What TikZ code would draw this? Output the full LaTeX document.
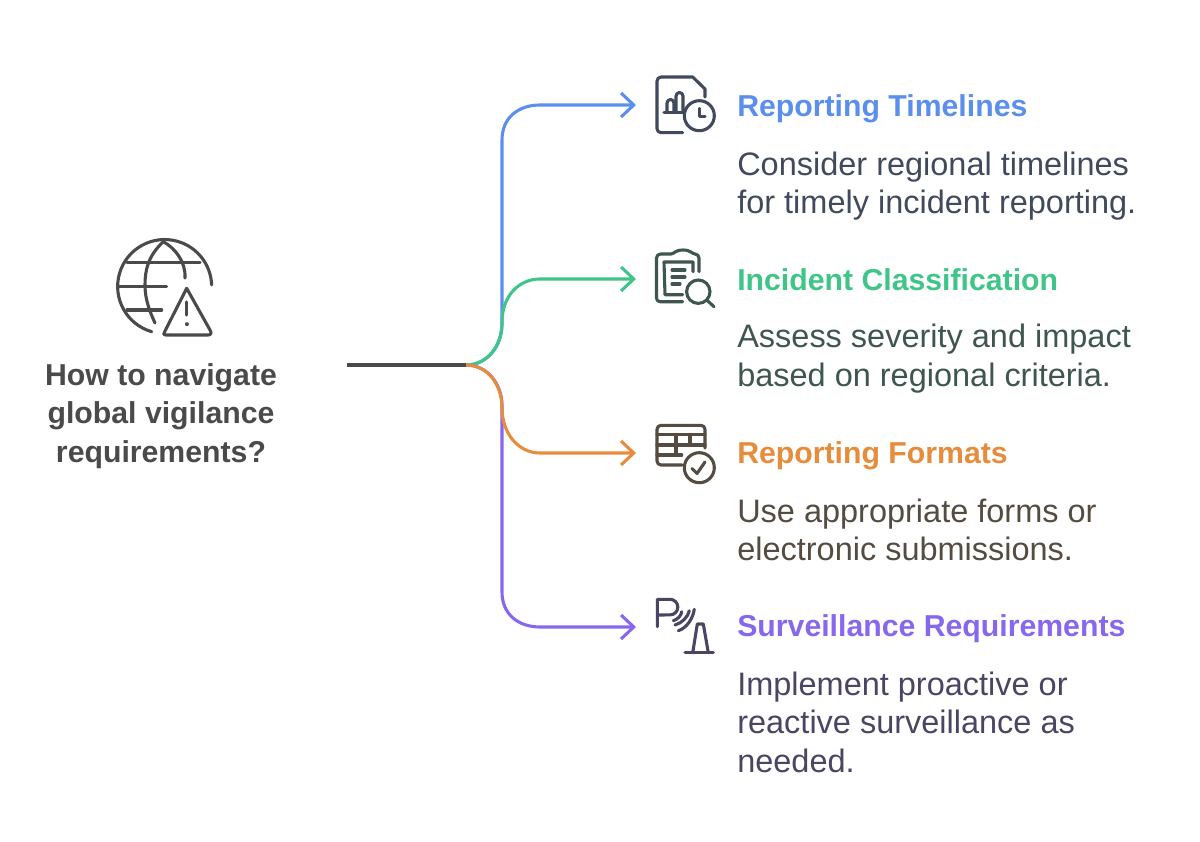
\documentclass[tikz,border=0pt]{standalone}
\usepackage{fontspec}
\setmainfont{Liberation Sans}
\usepackage{tikz}
\usetikzlibrary{arrows.meta, positioning}

\definecolor{blueline}{HTML}{5B8FEE}
\definecolor{greenline}{HTML}{3FC587}
\definecolor{orangeline}{HTML}{E68C3A}
\definecolor{purpleline}{HTML}{8767EE}
\definecolor{bluetext}{HTML}{414A5C}
\definecolor{greentext}{HTML}{3F5650}
\definecolor{orangetext}{HTML}{544B41}
\definecolor{purpletext}{HTML}{494663}
\definecolor{roottext}{HTML}{4A4A4A}

\tikzset{
  branch/.style={line width=2.2pt, -{Straight Barb[length=9pt, width=17pt, line width=2.2pt]}},
  curve/.style={line width=2.2pt},
  icon/.style={line width=2.2pt, line cap=round, line join=round},
  headlabel/.style={anchor=base west, inner sep=0pt, font=\fontsize{21.5}{27.3}\selectfont\bfseries},
  desclabel/.style={anchor=north west, inner sep=0pt, align=left, font=\fontsize{23.1}{27.3}\selectfont},
  rootlabel/.style={inner sep=0pt, align=center, text=roottext, font=\fontsize{21.5}{27.3}\selectfont\bfseries}
}

\begin{document}
\begin{tikzpicture}[x=0.025cm, y=-0.025cm]
  \useasboundingbox (0,0) rectangle (1200,841);

  % Connector ends
  \coordinate (start) at (347,365);
  \coordinate (hub) at (466,365);
  \coordinate (endblue) at (636,105);
  \coordinate (endgreen) at (636,279);
  \coordinate (endorange) at (636,453);
  \coordinate (endpurple) at (636,627);

  % Branches
  \draw[branch, blueline] (hub) .. controls (488,365) and (502,345) .. (502,325)
    -- (502,140) .. controls (502,118) and (518,105) .. (540,105) -- (endblue);
  \draw[branch, purpleline] (hub) .. controls (488,365) and (502,385) .. (502,405)
    -- (502,592) .. controls (502,614) and (518,627) .. (540,627) -- (endpurple);
  \draw[branch, greenline] (hub) .. controls (488,365) and (502,345) .. (502,322)
    .. controls (502,297) and (518,279) .. (540,279) -- (endgreen);
  \draw[branch, orangeline] (hub) .. controls (488,365) and (502,385) .. (502,408)
    .. controls (502,433) and (518,453) .. (540,453) -- (endorange);
  \draw[curve, roottext] (start) -- (hub);

  % Root icon
  \draw[icon, roottext] (151.7,331.7) arc[start angle=106, end angle=358, radius=47];
  \draw[icon, roottext] (163.3,241.7) .. controls (148,256) and (145,270) .. (145,285)
    .. controls (145,300) and (150,312) .. (155,323);
  \draw[icon, roottext] (163.3,241.7) .. controls (175,248) and (186,262) .. (185,278);
  \draw[icon, roottext] (127,262.3) -- (200,262.3);
  \draw[icon, roottext] (118.5,286.7) -- (166.7,286.7);
  \draw[icon, roottext] (127,310) -- (161.7,310);
  \draw[icon, roottext] (186.7,288.3) -- (165,331) .. controls (163,335) and (164,335) .. (166,335)
    -- (208,335) .. controls (211,335) and (212,333) .. (210,330) -- cycle;
  \draw[icon, roottext] (186.7,302) -- (186.7,315);
  \draw[icon, roottext, line width=2.6pt] (186.7,324) -- (186.7,324.3);
  \node[rootlabel] (root) at (161,416) {How to navigate\\global vigilance\\requirements?};

  % Reporting timelines
  \draw[icon, bluetext] (682.7,132.7) -- (661,132.7) arc[start angle=90, end angle=180, radius=4]
    -- (657,81) arc[start angle=180, end angle=270, radius=4] -- (692.7,77) -- (705,89) -- (705,97);
  \draw[icon, bluetext] (664,112.7) -- (683,112.7);
  \draw[icon, bluetext] (667,112.7) -- (667,103) arc[start angle=180, end angle=360, radius=3.5] -- (674,112.7);
  \draw[icon, bluetext] (676,112.7) -- (676,96) arc[start angle=180, end angle=360, radius=3.5] -- (683,112.7);
  \draw[icon, bluetext] (699.3,115.7) circle (15);
  \draw[icon, bluetext] (699.3,108.3) -- (699.3,116.7) -- (705,116.7);
  \node[headlabel, text=blueline] (blueHead) at (737,116) {Reporting Timelines};
  \node[desclabel, text=bluetext] (blueDesc) at (737,151.5) {Consider regional timelines\\for timely incident reporting.};

  % Incident classification
  \draw[icon, greentext] (682.7,301.7) -- (660,301.7) arc[start angle=90, end angle=180, radius=3.5]
    -- (656.5,258) arc[start angle=180, end angle=270, radius=4] -- (671,254)
    .. controls (674,254) and (675,250) .. (683,250) .. controls (691,250) and (692,254) .. (695,254)
    arc[start angle=270, end angle=360, radius=4] -- (699,271.7);
  \draw[icon, greentext] (682.7,294.7) -- (665,294.7) -- (664,262) -- (693,262) -- (693,271.7);
  \draw[icon, greentext] (672,270) -- (685,270);
  \draw[icon, greentext] (672,277) -- (685,277);
  \draw[icon, greentext] (672,284) -- (680,284);
  \draw[icon, greentext] (698.3,291.7) circle (11.7);
  \draw[icon, greentext] (706.7,300) -- (714,306.7);
  \node[headlabel, text=greenline] (greenHead) at (737,290) {Incident Classification};
  \node[desclabel, text=greentext] (greenDesc) at (737,324) {Assess severity and impact\\based on regional criteria.};

  % Reporting formats
  \draw[icon, orangetext] (682,465) -- (661,465) arc[start angle=90, end angle=180, radius=4]
    -- (657,429.3) arc[start angle=180, end angle=270, radius=4] -- (701,425.3)
    arc[start angle=270, end angle=360, radius=4] -- (705,448);
  \draw[icon, orangetext] (657,434.3) -- (705,434.3);
  \draw[icon, orangetext] (657,445) -- (705,445);
  \draw[icon, orangetext] (657,455) -- (681.7,455);
  \draw[icon, orangetext] (676,434.3) -- (676,455);
  \draw[icon, orangetext] (690,434.3) -- (690,445);
  \draw[icon, orangetext] (699.3,467.7) circle (15);
  \draw[icon, orangetext] (692,468.5) -- (697,473.5) -- (705,462);
  \node[headlabel, text=orangeline] (orangeHead) at (737,463) {Reporting Formats};
  \node[desclabel, text=orangetext] (orangeDesc) at (737,498.5) {Use appropriate forms or\\electronic submissions.};

  % Surveillance requirements
  \draw[icon, purpletext] (657.3,626.7) -- (657.3,599.3) -- (670,599.3)
    arc[start angle=-90, end angle=90, radius=7.8] -- (657.3,615);
  \draw[icon, purpletext] (673.3,620.7) .. controls (678,619) and (681,616) .. (681.7,611.7);
  \draw[icon, purpletext] (675,625) .. controls (682,623) and (688,617) .. (689.3,610.7);
  \draw[icon, purpletext] (678.3,630.7) .. controls (687,628) and (693,618) .. (694.3,609.3);
  \draw[icon, purpletext] (685,652.7) -- (713.3,652.7);
  \draw[icon, purpletext] (692.7,652.7) -- (697.3,624) -- (703.3,624) -- (708.3,652.7);
  \node[headlabel, text=purpleline] (purpleHead) at (737,636.5) {Surveillance Requirements};
  \node[desclabel, text=purpletext] (purpleDesc) at (737,671.5) {Implement proactive or\\reactive surveillance as\\needed.};
\end{tikzpicture}
\end{document}
